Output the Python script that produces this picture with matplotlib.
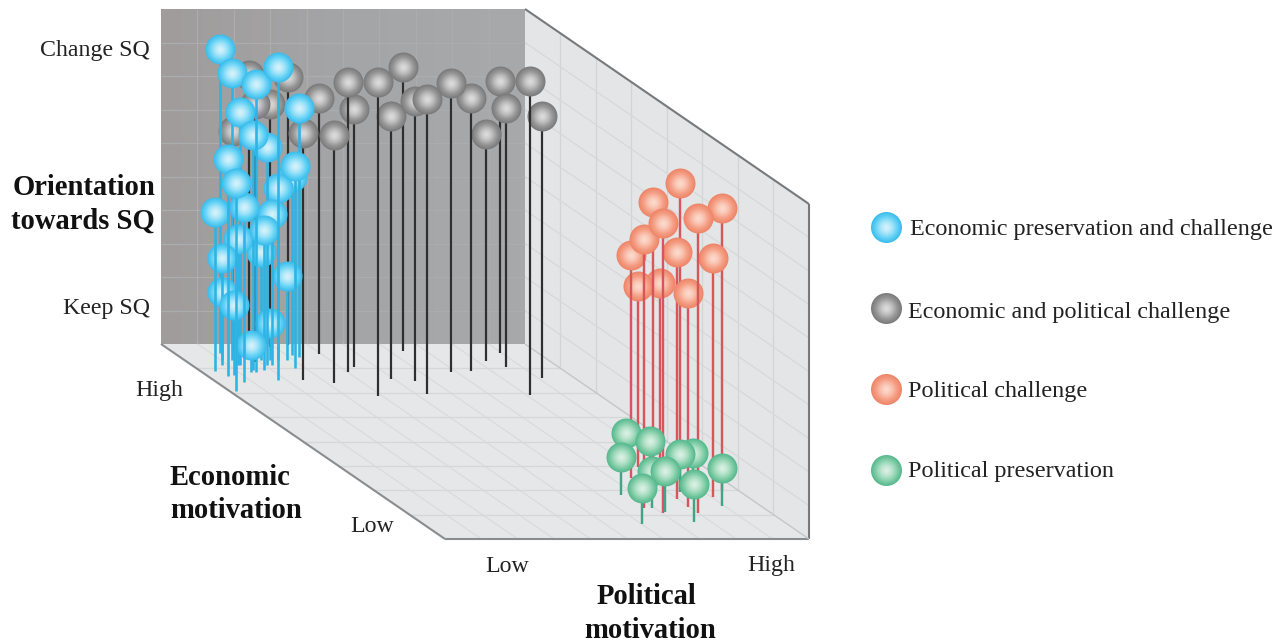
import numpy as np
import matplotlib
matplotlib.use("Agg")
import matplotlib.pyplot as plt
from matplotlib.colors import to_rgb
from matplotlib.patches import Polygon

plt.rcParams['font.family'] = ['Liberation Serif', 'DejaVu Serif']

# values on 0-100 scales: political, economic, orientation towards SQ
blue_pol = [12.6,13.1,14.9,17.7,13.3,32.7,14.9,20.7,5.6,27.2,31.6,1.8,25.7,4.0,7.6,22.1,17.9,12.7,21.1,8.4,28.2,10.4,7.7,23.5,13.5]
blue_eco = [95.4,91.8,85.6,81.5,89.2,93.3,86.7,89.2,83.6,87.7,94.4,75.9,91.8,86.2,80.5,89.2,86.7,89.2,91.8,89.2,91.8,91.8,84.1,91.8,85.6]
blue_sq  = [90.7,85.7,86.0,93.4,75.5,74.3,70.1,65.1,64.8,60.3,53.1,62.1,51.3,47.5,52.2,45.1,41.8,37.6,32.2,31.9,25.1,20.3,20.9,11.0,8.1]

gray_pol = [63.7,40.2,38.8,68.5,89.5,81.0,74.4,39.4,43.8,55.0,53.1,85.6,49.2,91.1,31.9,82.5,24.6,34.5,17.4,17.8,18.6,28.7]
gray_eco = [96.4,85.6,73.3,85.6,95.4,73.8,86.2,94.9,88.2,81.0,74.4,88.2,82.1,82.6,80.0,91.3,81.5,99.5,96.9,91.8,90.8,98.5]
gray_sq  = [84.8,86.6,93.7,86.3,81.2,93.7,81.5,76.4,77.0,83.6,88.1,77.3,78.5,78.2,74.0,67.8,73.7,80.0,65.4,85.1,77.0,72.5]

red_pol = [83.4,76.8,70.3,79.9,95.7,67.1,75.5,79.8,90.4,81.8,91.5,79.6]
red_eco = [24.1,25.1,13.3,13.3,25.1,15.9,31.3,20.5,21.5,36.9,41.5,16.4]
red_sq  = [92.2,86.0,86.6,88.1,84.2,80.3,66.6,73.7,71.3,54.0,52.2,63.9]

green_pol = [77.3,79.9,66.0,87.7,83.4,71.3,69.3,60.1,75.2,89.3]
green_eco = [35.4,30.3,22.6,25.1,24.1,13.8,15.9,7.7,8.7,16.9]
green_sq  = [11.0,11.6,11.3,11.0,11.3,12.2,11.0,10.7,11.3,11.3]

legend_labels = ["Economic preservation and challenge", "Economic and political challenge",
                 "Political challenge", "Political preservation"]
grid_steps_pol = np.linspace(0, 100, 11)
grid_steps_eco = np.linspace(0, 100, 9)
grid_steps_sq = np.linspace(0, 100, 11)


def project(p, e, z):
    p, e, z = np.asarray(p, float), np.asarray(e, float), np.asarray(z, float)
    u = 1 - e / 100
    return 161 + 3.64 * p + 284 * u, 344 + 195 * u - 3.35 * z


fig = plt.figure(figsize=(12.88, 6.44), dpi=100, facecolor='white')
ax = fig.add_axes([0, 0, 1, 1])


def face(pts, color, z):
    xs, ys = project(*zip(*pts))
    ax.add_patch(Polygon(np.c_[xs, ys], closed=True, fc=color, ec='none', zorder=z))


def seg(a, b, color, lw, z=2):
    xs, ys = project(*zip(a, b))
    ax.plot(xs, ys, color=color, lw=lw, zorder=z, solid_capstyle='butt')


# back wall gradient
grad = np.linspace(0, 1, 256).reshape(1, -1)
cmap = matplotlib.colors.LinearSegmentedColormap.from_list('w', ['#a09c9c', '#a4a5a7', '#a7a9ab'])
ax.imshow(grad, extent=(161, 525, 344, 9), cmap=cmap, aspect='auto', zorder=1)
face([(100, 100, 0), (100, 100, 100), (100, 0, 100), (100, 0, 0)], '#e3e5e7', 1)
face([(0, 100, 0), (100, 100, 0), (100, 0, 0), (0, 0, 0)], '#e6e7e9', 1)

for p in grid_steps_pol[1:-1]:
    seg((p, 100, 0), (p, 100, 100), '#abacae', 0.9)
    seg((p, 100, 0), (p, 0, 0), '#dadbdd', 0.9)
for e in grid_steps_eco[1:-1]:
    seg((0, e, 0), (100, e, 0), '#d6d7d9', 0.9)
    seg((100, e, 0), (100, e, 100), '#d2d4d6', 0.9)
for z in grid_steps_sq[1:-1]:
    seg((0, 100, z), (100, 100, z), '#abacae', 0.9)
    seg((100, 100, z), (100, 0, z), '#d6d8da', 0.9)

seg((0, 0, 0), (0, 100, 0), '#8a8c8e', 1.5, 3)
seg((0, 0, 0), (100, 0, 0), '#8a8c8e', 1.5, 3)
seg((100, 0, 0), (100, 0, 100), '#77797b', 1.5, 3)
seg((100, 100, 100), (100, 0, 100), '#77797b', 1.5, 3)
seg((100, 100, 0), (100, 0, 0), '#c4c6c8', 1.0, 3)

zc = [10]


def ball(x, y, r, edge, mid, centre):
    edge, mid, centre = map(lambda c: np.array(to_rgb(c)), (edge, mid, centre))
    for t in np.linspace(1, 0.08, 16):
        if t > 0.7:
            col = mid + (edge - mid) * (t - 0.7) / 0.3
        else:
            col = centre + (mid - centre) * (t / 0.7) ** 1.5
        ax.scatter([x], [y], s=(2 * r * t * 0.72) ** 2, color=[tuple(col)], linewidths=0, zorder=zc[0])
        zc[0] += 0.001
    zc[0] += 0.01


gray = ('#2f2f2f', 2.2, ('#7b7b7b', '#989898', '#dedede'))
blue = ('#2db4e4', 2.6, ('#3cbdec', '#6ad4f6', '#d8f3fb'))
red = ('#d8555c', 2.4, ('#ee8669', '#f59e84', '#fcdccf'))
green = ('#3fa583', 2.4, ('#58b98f', '#86d0aa', '#dcf1e5'))

series = [
    (gray_pol, gray_eco, gray_sq, gray),
    (blue_pol, blue_eco, blue_sq, blue),
    (red_pol, red_eco, red_sq, red),
    (green_pol, green_eco, green_sq, green),
]
for pol, eco, sq, (stem, lw, shades) in series:
    for i in np.argsort(-np.asarray(eco), kind='stable'):
        x0, y0 = project(pol[i], eco[i], 0)
        x1, y1 = project(pol[i], eco[i], sq[i])
        ax.plot([x0, x1], [y0, y1], color=stem, lw=lw * 0.72, zorder=zc[0], solid_capstyle='butt')
        zc[0] += 0.001
        ball(float(x1), float(y1), 15, *shades)

# legend
for style, label, ly, tx, ty in zip([blue, gray, red, green], legend_labels, [227, 308, 389, 470],
                                    [910, 908, 908, 908], [229, 312, 391, 471]):
    ball(886, ly, 15.5, *style[2])
    ax.text(tx, ty, label, fontsize=17.4, color='#222222', ha='left', va='center')

tick = dict(fontsize=17.2, color='#222222', va='center')
ax.text(150, 50, "Change SQ", ha='right', **tick)
ax.text(150, 308, "Keep SQ", ha='right', **tick)
ax.text(159, 390, "High", ha='center', **tick)
ax.text(372, 527, "Low", ha='center', **tick)
ax.text(507, 567, "Low", ha='center', **tick)
ax.text(771, 566, "High", ha='center', **tick)

bold = dict(fontsize=20.6, fontweight='bold', color='#111111', va='center')
ax.text(155, 187, "Orientation", ha='right', **bold)
ax.text(155, 221, "towards SQ", ha='right', **bold)
ax.text(170, 477, "Economic", ha='left', **bold)
ax.text(170, 511, "motivation", ha='left', **bold)
ax.text(646, 596, "Political", ha='center', **bold)
ax.text(650, 630, "motivation", ha='center', **bold)

ax.set_xlim(0, 1288)
ax.set_ylim(644, 0)
ax.axis('off')
fig.savefig('out.png', dpi=100, facecolor='white')
